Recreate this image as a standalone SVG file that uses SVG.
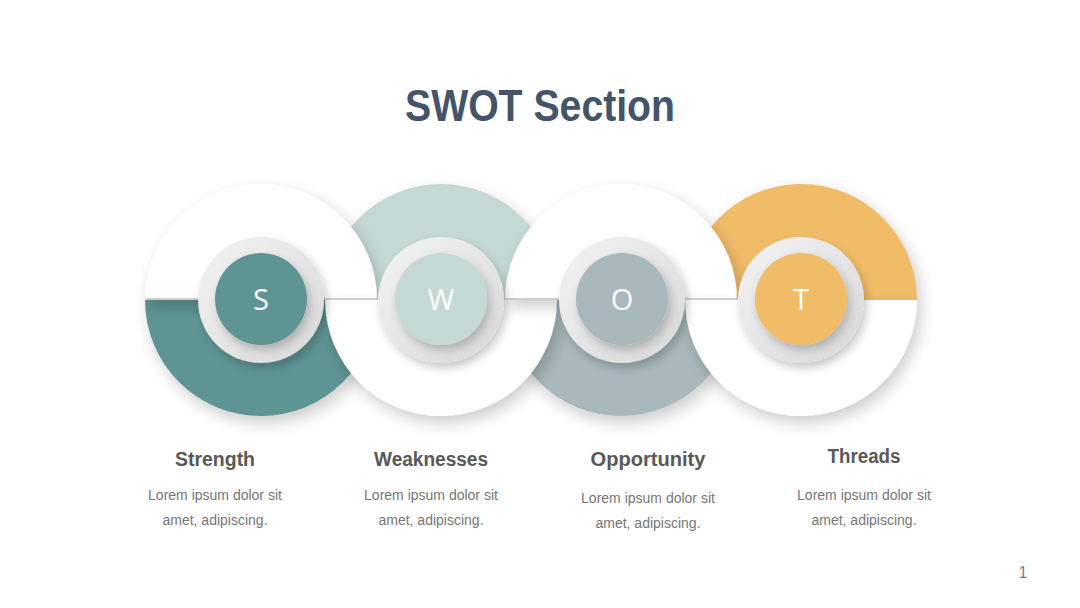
<svg xmlns="http://www.w3.org/2000/svg" width="1080" height="608" viewBox="0 0 1080 608">
  <defs>
    <filter id="sh" x="-40%" y="-40%" width="180%" height="180%">
      <feGaussianBlur in="SourceAlpha" stdDeviation="8"/>
      <feOffset dx="4" dy="7"/>
      <feComponentTransfer><feFuncA type="linear" slope="0.2"/></feComponentTransfer>
      <feMerge><feMergeNode/><feMergeNode in="SourceGraphic"/></feMerge>
    </filter>
    <filter id="sh2" x="-40%" y="-40%" width="180%" height="180%">
      <feGaussianBlur in="SourceAlpha" stdDeviation="5"/>
      <feOffset dx="3" dy="5"/>
      <feComponentTransfer><feFuncA type="linear" slope="0.22"/></feComponentTransfer>
      <feMerge><feMergeNode/><feMergeNode in="SourceGraphic"/></feMerge>
    </filter>
    <linearGradient id="ringg" x1="0" y1="0" x2="1" y2="1">
      <stop offset="0" stop-color="#F3F3F3"/>
      <stop offset="1" stop-color="#D8D8D8"/>
    </linearGradient>
    <style>
      .white { fill: #FFFFFF; filter: url(#sh); }
      .half { filter: url(#sh); }
      .ring { fill: url(#ringg); filter: url(#sh2); }
      .inner { filter: url(#sh2); }
      .letter { font-family: "Open Sans", "Liberation Sans", sans-serif; font-size: 29px; fill: #FFFFFF; text-anchor: middle; }
      .title { font-family: "Liberation Sans", Arial, sans-serif; font-weight: bold; font-size: 20px; fill: #595959; text-anchor: middle; }
      .body { font-family: "Liberation Sans", Arial, sans-serif; font-size: 14px; fill: #767676; text-anchor: middle; }
    </style>
  </defs>

  <rect width="1080" height="608" fill="#FFFFFF"/>

  <text x="540" y="121" font-family="Liberation Sans, Arial, sans-serif" font-weight="bold" font-size="45" fill="#44546A" text-anchor="middle" textLength="270" lengthAdjust="spacingAndGlyphs">SWOT Section</text>

  <g id="halves">
    <path class="half" d="M145,300 A116,116 0 0 0 377,300 Z" fill="#5E9494"/>
    <path class="half" d="M325,300 A116,116 0 0 1 557,300 Z" fill="#C5D9D4"/>
    <path class="half" d="M505,300 A116,116 0 0 0 737,300 Z" fill="#A8B8BC"/>
    <path class="half" d="M685,300 A116,116 0 0 1 917,300 Z" fill="#F0BC68"/>
    <path class="white" d="M145,300 A116,116 0 0 1 377,300 Z"/>
    <path class="white" d="M325,300 A116,116 0 0 0 557,300 Z"/>
    <path class="white" d="M505,300 A116,116 0 0 1 737,300 Z"/>
    <path class="white" d="M685,300 A116,116 0 0 0 917,300 Z"/>
  </g>

  <g id="connectors">
    <line x1="146" y1="299" x2="862" y2="299" stroke="#CFCFCF" stroke-width="2"/>
  </g>

  <g id="node-S">
    <circle class="ring" cx="261" cy="300" r="63"/>
    <circle class="inner" cx="261" cy="299" r="46" fill="#5E9494"/>
    <text class="letter" x="261" y="310">S</text>
    <text class="title" x="215" y="466" textLength="80" lengthAdjust="spacingAndGlyphs">Strength</text>
    <text class="body" x="215" y="500">Lorem ipsum dolor sit</text>
    <text class="body" x="215" y="525">amet, adipiscing.</text>
  </g>

  <g id="node-W">
    <circle class="ring" cx="441" cy="300" r="63"/>
    <circle class="inner" cx="441" cy="299" r="46" fill="#C5D9D4"/>
    <text class="letter" x="441" y="310">W</text>
    <text class="title" x="431" y="466" textLength="114" lengthAdjust="spacingAndGlyphs">Weaknesses</text>
    <text class="body" x="431" y="500">Lorem ipsum dolor sit</text>
    <text class="body" x="431" y="525">amet, adipiscing.</text>
  </g>

  <g id="node-O">
    <circle class="ring" cx="622" cy="300" r="63"/>
    <circle class="inner" cx="622" cy="299" r="46" fill="#A8B8BC"/>
    <text class="letter" x="622" y="310">O</text>
    <text class="title" x="648" y="466" textLength="115" lengthAdjust="spacingAndGlyphs">Opportunity</text>
    <text class="body" x="648" y="503">Lorem ipsum dolor sit</text>
    <text class="body" x="648" y="528">amet, adipiscing.</text>
  </g>

  <g id="node-T">
    <circle class="ring" cx="801" cy="300" r="63"/>
    <circle class="inner" cx="801" cy="299" r="46" fill="#F0BC68"/>
    <text class="letter" x="801" y="310">T</text>
    <text class="title" x="864" y="463" textLength="73" lengthAdjust="spacingAndGlyphs">Threads</text>
    <text class="body" x="864" y="500">Lorem ipsum dolor sit</text>
    <text class="body" x="864" y="525">amet, adipiscing.</text>
  </g>

  <text x="1023" y="578" font-family="Liberation Sans, Arial, sans-serif" font-size="16" fill="#808080" text-anchor="middle">1</text>
</svg>
